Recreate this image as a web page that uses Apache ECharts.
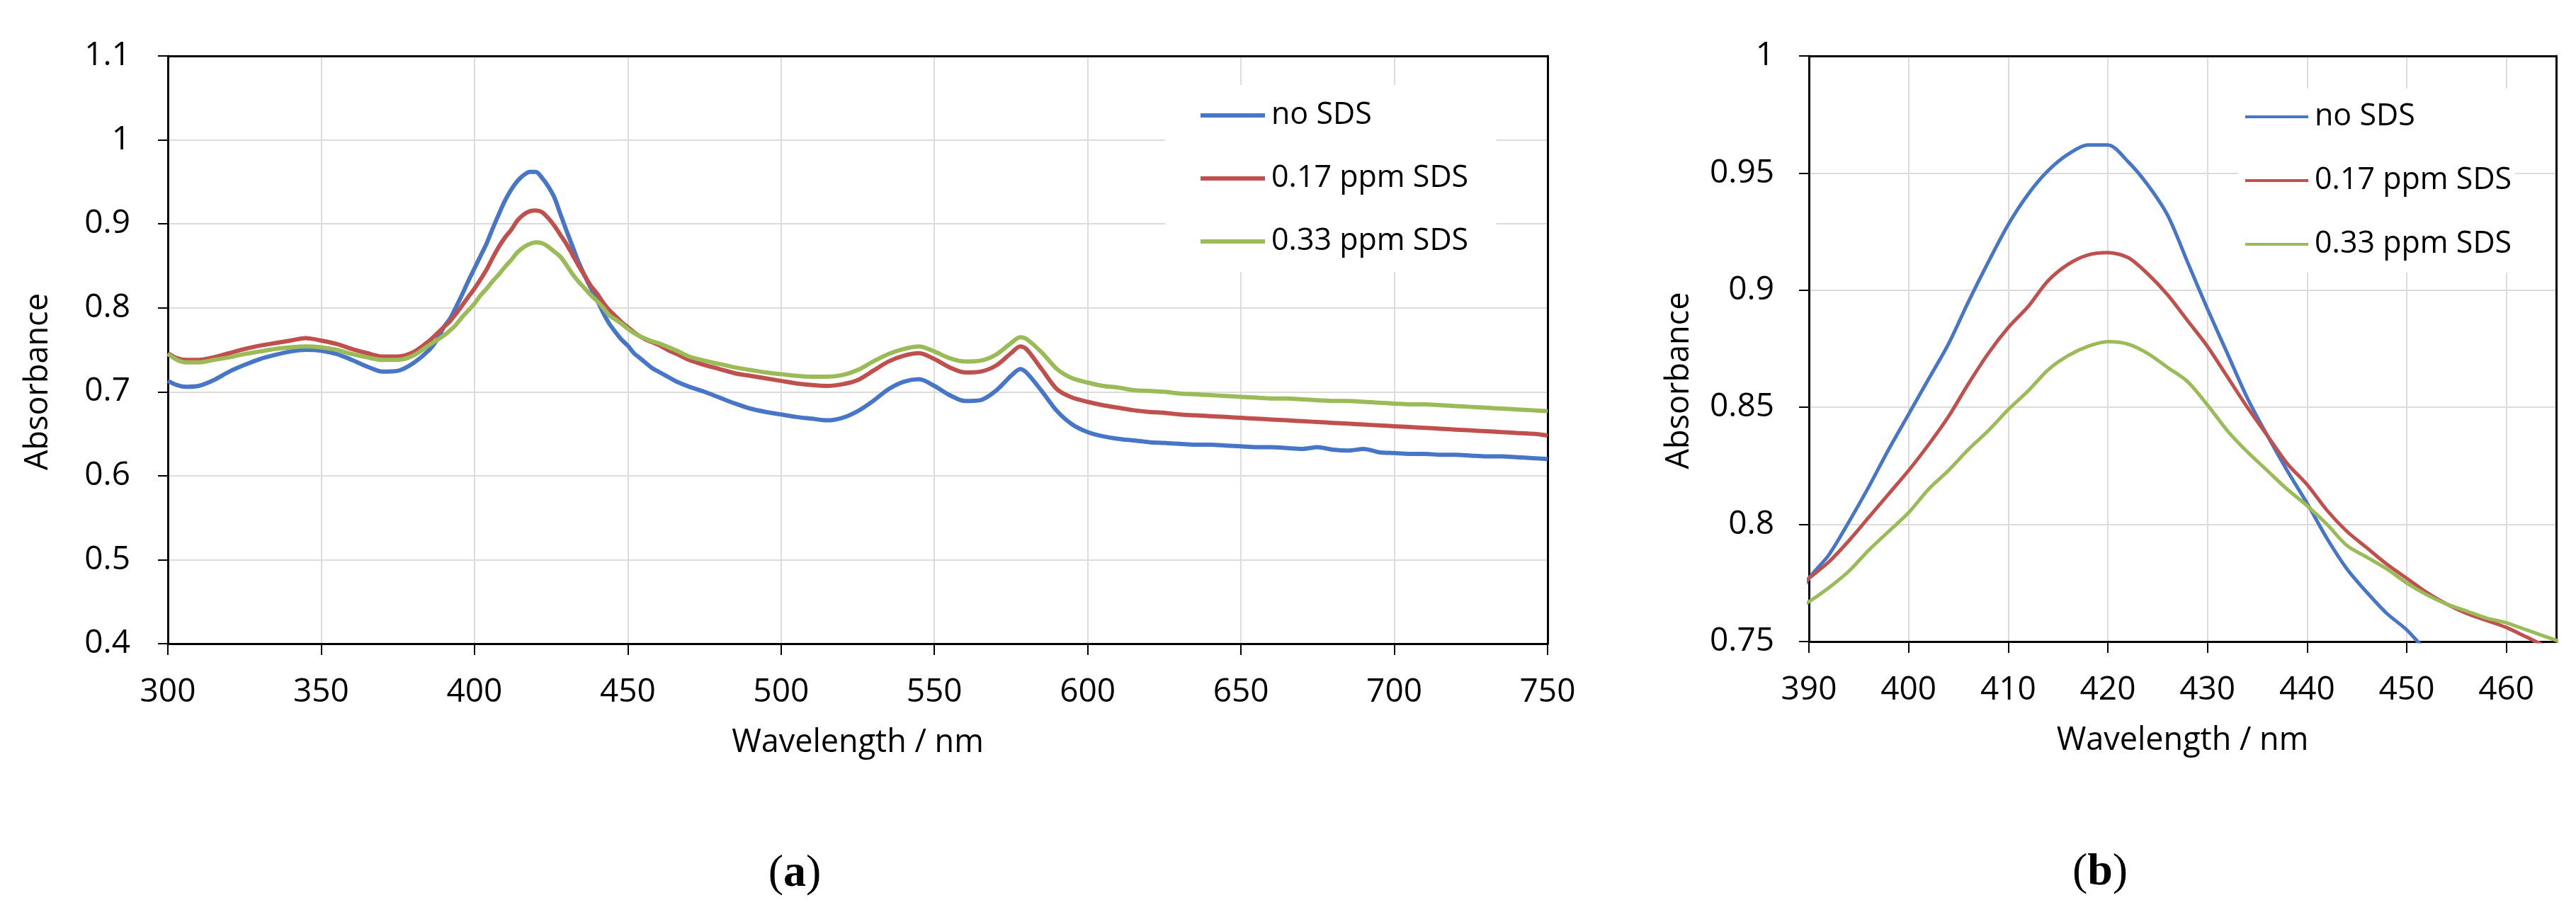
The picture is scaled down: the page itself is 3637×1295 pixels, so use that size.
<!DOCTYPE html>
<html>
<head>
<meta charset="utf-8">
<title>Absorbance spectra</title>
<script src="https://cdn.jsdelivr.net/npm/echarts@6/dist/echarts.min.js"></script>
<style>
    html, body { margin: 0; padding: 0; background: #fff; }
    #main { width: 3637px; height: 1295px; }
</style>
</head>
<body>
<div id="main"></div>
<script>
// wavelength (nm) of every sample
var wavelengths = [
    300, 303, 306, 310, 315, 320, 325, 330, 335, 340, 345, 350, 355, 360, 365, 370, 375, 380, 385,
    388, 390, 392, 394, 396, 398, 400, 402, 404, 406, 408, 410, 412, 414, 416, 418, 420, 422, 424, 426, 428,
    430, 432, 434, 436, 438, 440, 442, 444, 446, 448, 450, 452, 454, 456, 458, 460, 462, 464, 466,
    470, 475, 480, 485, 490, 495, 500, 505, 510, 515, 520, 525, 530, 535, 540, 545, 550, 555, 560, 565,
    570, 575, 578, 580, 585, 590, 595,
    600, 605, 610, 615, 620, 625, 630, 635, 640, 645, 650, 655, 660, 665, 670, 675, 680, 685, 690, 695,
    700, 705, 710, 715, 720, 725, 730, 735, 740, 745, 750
];

var noSds = [
    0.713, 0.708, 0.706, 0.707, 0.714, 0.724, 0.732, 0.739, 0.744, 0.748, 0.750, 0.749, 0.745, 0.738, 0.730, 0.724, 0.725, 0.734, 0.749,
    0.763, 0.777, 0.787, 0.801, 0.816, 0.832, 0.847, 0.862, 0.877, 0.895, 0.912, 0.928, 0.941, 0.951, 0.958, 0.962, 0.962, 0.955, 0.945, 0.932, 0.912,
    0.892, 0.873, 0.854, 0.838, 0.823, 0.809, 0.794, 0.781, 0.771, 0.762, 0.755, 0.746, 0.740, 0.734, 0.728, 0.724, 0.720, 0.716, 0.712,
    0.706, 0.700, 0.693, 0.686, 0.680, 0.676, 0.673, 0.670, 0.668, 0.666, 0.669, 0.677, 0.689, 0.703, 0.712, 0.715, 0.707, 0.696, 0.689, 0.690,
    0.701, 0.719, 0.727, 0.723, 0.701, 0.677, 0.661,
    0.652, 0.647, 0.644, 0.642, 0.640, 0.639, 0.638, 0.637, 0.637, 0.636, 0.635, 0.634, 0.634, 0.633, 0.632, 0.634, 0.631, 0.630, 0.632, 0.628,
    0.627, 0.626, 0.626, 0.625, 0.625, 0.624, 0.623, 0.623, 0.622, 0.621, 0.620
];

var sds017 = [
    0.746, 0.740, 0.738, 0.738, 0.741, 0.746, 0.751, 0.755, 0.758, 0.761, 0.764, 0.761, 0.757, 0.751, 0.746, 0.742, 0.742, 0.747, 0.760,
    0.770, 0.777, 0.784, 0.793, 0.803, 0.813, 0.823, 0.834, 0.846, 0.860, 0.873, 0.884, 0.893, 0.904, 0.911, 0.915, 0.916, 0.914, 0.907, 0.898, 0.887,
    0.876, 0.863, 0.850, 0.838, 0.826, 0.817, 0.806, 0.797, 0.790, 0.783, 0.777, 0.771, 0.766, 0.762, 0.759, 0.756, 0.752, 0.748, 0.745,
    0.738, 0.732, 0.727, 0.722, 0.719, 0.716, 0.713, 0.710, 0.708, 0.707, 0.709, 0.714, 0.725, 0.736, 0.743, 0.746, 0.739, 0.729, 0.723, 0.724,
    0.731, 0.746, 0.754, 0.751, 0.727, 0.703, 0.693,
    0.688, 0.684, 0.681, 0.678, 0.676, 0.675, 0.673, 0.672, 0.671, 0.670, 0.669, 0.668, 0.667, 0.666, 0.665, 0.664, 0.663, 0.662, 0.661, 0.660,
    0.659, 0.658, 0.657, 0.656, 0.655, 0.654, 0.653, 0.652, 0.651, 0.650, 0.648
];

var sds033 = [
    0.745, 0.738, 0.735, 0.735, 0.738, 0.741, 0.745, 0.748, 0.751, 0.753, 0.754, 0.753, 0.750, 0.745, 0.741, 0.738, 0.738, 0.743, 0.755,
    0.762, 0.767, 0.773, 0.780, 0.789, 0.797, 0.805, 0.815, 0.823, 0.832, 0.840, 0.849, 0.857, 0.866, 0.872, 0.876, 0.878, 0.877, 0.873, 0.867, 0.861,
    0.851, 0.840, 0.831, 0.823, 0.815, 0.808, 0.800, 0.791, 0.786, 0.781, 0.775, 0.770, 0.766, 0.763, 0.760, 0.758, 0.755, 0.752, 0.749,
    0.742, 0.737, 0.733, 0.729, 0.726, 0.723, 0.721, 0.719, 0.718, 0.718, 0.720, 0.726, 0.736, 0.745, 0.751, 0.754, 0.748, 0.740, 0.736, 0.737,
    0.744, 0.758, 0.765, 0.763, 0.747, 0.727, 0.716,
    0.711, 0.707, 0.705, 0.702, 0.701, 0.700, 0.698, 0.697, 0.696, 0.695, 0.694, 0.693, 0.692, 0.692, 0.691, 0.690, 0.689, 0.689, 0.688, 0.687,
    0.686, 0.685, 0.685, 0.684, 0.683, 0.682, 0.681, 0.680, 0.679, 0.678, 0.677
];

var seriesNames = ['no SDS', '0.17 ppm SDS', '0.33 ppm SDS'];
var seriesColors = ['#4876c6', '#c0504d', '#9bbb59'];
var seriesValues = [noSds, sds017, sds033];

(function () {
    'use strict';
    var FONT = '"Open Sans", "Noto Sans", sans-serif';
    var chart = echarts.init(document.getElementById('main'), null, { renderer: 'canvas' });

    function pairs(values) {
        return wavelengths.map(function (w, i) { return [w, values[i]]; });
    }

    function xAxis(gridIndex, min, max, interval) {
        return {
            type: 'value', gridIndex: gridIndex, min: min, max: max, interval: interval,
            name: 'Wavelength / nm', nameLocation: 'middle', nameGap: 118,
            nameTextStyle: { fontFamily: FONT, fontSize: 45, color: '#000' },
            axisLine: { show: true, lineStyle: { color: '#000', width: 3 } },
            axisTick: { show: true, length: 16, lineStyle: { color: '#000', width: 2 } },
            axisLabel: { fontFamily: FONT, fontSize: 46, color: '#000', margin: 46, showMaxLabel: gridIndex === 0 },
            splitLine: { show: true, lineStyle: { color: '#dcdcdc', width: 2 } }
        };
    }

    function yAxis(gridIndex, min, max, interval, margin) {
        return {
            type: 'value', gridIndex: gridIndex, min: min, max: max, interval: interval,
            name: 'Absorbance', nameLocation: 'middle', nameGap: 160,
            nameTextStyle: { fontFamily: FONT, fontSize: 45, color: '#000', padding: [0, 90, 0, 0] },
            axisLine: { show: true, lineStyle: { color: '#000', width: 3 } },
            axisTick: { show: true, length: 14, lineStyle: { color: '#000', width: 2 } },
            axisLabel: { fontFamily: FONT, fontSize: 46, color: '#000', margin: margin },
            splitLine: { show: true, lineStyle: { color: '#dcdcdc', width: 2 } }
        };
    }

    // plain black line on the top / right edge of a plot, to close the box
    function frame(kind, gridIndex, min, max) {
        return {
            type: 'value', gridIndex: gridIndex, min: min, max: max,
            position: kind === 'x' ? 'top' : 'right',
            axisLine: { show: true, onZero: false, lineStyle: { color: '#000', width: 3 } },
            axisTick: { show: false }, axisLabel: { show: false }, splitLine: { show: false }
        };
    }

    function legend(left, top, padding, itemWidth, itemHeight, gap) {
        return {
            data: seriesNames, orient: 'vertical', left: left, top: top,
            padding: padding, itemGap: gap, itemWidth: itemWidth, itemHeight: itemHeight,
            icon: 'rect', backgroundColor: '#fff', selectedMode: false,
            textStyle: { fontFamily: FONT, fontSize: 43, color: '#000', lineHeight: 50, padding: [0, 0, 0, 4] }
        };
    }

    var series = [];
    [0, 1].forEach(function (g) {
        seriesValues.forEach(function (vals, i) {
            series.push({
                name: seriesNames[i], type: 'line', xAxisIndex: g, yAxisIndex: g,
                data: pairs(vals), showSymbol: false, symbol: 'none', smooth: 0.3,
                color: seriesColors[i], clip: true,
                lineStyle: { color: seriesColors[i], width: g === 0 ? 6 : 5 }
            });
        });
    });

    var labelRich = {
        p: { fontFamily: '"Liberation Serif", serif', fontSize: 64, color: '#000' },
        b: { fontFamily: '"Liberation Serif", serif', fontSize: 64, fontWeight: 'bold', color: '#000' }
    };

    var option = {
        animation: false,
        backgroundColor: '#fff',
        grid: [
            { left: 237, top: 79, width: 1948, height: 830, containLabel: false },
            { left: 2554, top: 79, width: 1055, height: 827, containLabel: false }
        ],
        xAxis: [
            xAxis(0, 300, 750, 50), xAxis(1, 390, 465, 10),
            frame('x', 0, 300, 750), frame('x', 1, 390, 465)
        ],
        yAxis: [
            yAxis(0, 0.4, 1.1, 0.1, 53), yAxis(1, 0.75, 1, 0.05, 49),
            frame('y', 0, 0.4, 1.1), frame('y', 1, 0.75, 1)
        ],
        legend: [
            legend(1645, 120, [18, 39, 18, 50], 91, 6, 39),
            legend(3160, 125, [15, 5, 15, 10], 89, 4, 40)
        ],
        graphic: [
            { type: 'text', x: 1122, y: 1234, style: { text: '{p|(}{b|a}{p|)}', rich: labelRich, align: 'center', verticalAlign: 'middle' } },
            { type: 'text', x: 2965, y: 1232, style: { text: '{p|(}{b|b}{p|)}', rich: labelRich, align: 'center', verticalAlign: 'middle' } }
        ],
        series: series
    };

    chart.setOption(option);
})();
</script>
</body>
</html>
